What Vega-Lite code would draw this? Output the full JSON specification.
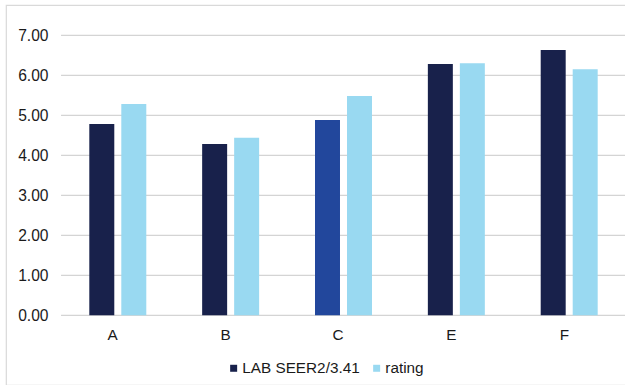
{
  "$schema": "https://vega.github.io/schema/vega-lite/v6.json",
  "autosize": {"type": "none"},
  "padding": {"left": 6, "top": 5, "right": 0, "bottom": 0},
  "width": 630,
  "height": 380,
  "background": "#ffffff",
  "config": {
    "font": "Liberation Sans",
    "view": {"stroke": "#d9d9d9", "strokeWidth": 1.2}
  },
  "datasets": {
    "scores": [
      {"cat": "A", "series": "LAB SEER2/3.41", "value": 4.78},
      {"cat": "A", "series": "rating", "value": 5.28},
      {"cat": "B", "series": "LAB SEER2/3.41", "value": 4.28},
      {"cat": "B", "series": "rating", "value": 4.44},
      {"cat": "C", "series": "LAB SEER2/3.41", "value": 4.88},
      {"cat": "C", "series": "rating", "value": 5.48},
      {"cat": "E", "series": "LAB SEER2/3.41", "value": 6.28},
      {"cat": "E", "series": "rating", "value": 6.30},
      {"cat": "F", "series": "LAB SEER2/3.41", "value": 6.63},
      {"cat": "F", "series": "rating", "value": 6.15}
    ],
    "ticks": [
      {"v": 0}, {"v": 1}, {"v": 2}, {"v": 3}, {"v": 4}, {"v": 5}, {"v": 6}, {"v": 7}
    ]
  },
  "resolve": {"scale": {"x": "shared", "y": "shared"}},
  "layer": [
    {
      "data": {"name": "ticks"},
      "mark": {"type": "rule", "color": "#d4d4d4", "strokeWidth": 1.2},
      "encoding": {
        "y": {"field": "v", "type": "quantitative"},
        "x": {"datum": "A", "type": "nominal", "bandPosition": -0.496},
        "x2": {"datum": "F", "bandPosition": 2}
      }
    },
    {
      "data": {"name": "scores"},
      "mark": {"type": "bar"},
      "encoding": {
        "x": {
          "field": "cat",
          "type": "nominal",
          "sort": ["A", "B", "C", "E", "F"],
          "scale": {"paddingInner": 0.495, "paddingOuter": 0.5388, "align": 0.685},
          "axis": {
            "title": null,
            "orient": "bottom",
            "offset": -69.7,
            "domain": false,
            "ticks": false,
            "tickSize": 0,
            "labelPadding": 19,
            "labelAngle": 0,
            "labelFontSize": 15.3,
            "labelColor": "#1a1a1a"
          }
        },
        "xOffset": {
          "field": "series",
          "type": "nominal",
          "sort": ["LAB SEER2/3.41", "rating"],
          "scale": {"paddingInner": 0.219, "paddingOuter": 0}
        },
        "y": {
          "field": "value",
          "type": "quantitative",
          "scale": {"domain": [-1.7425, 7.7575], "nice": false, "zero": false},
          "axis": {
            "title": null,
            "values": [0, 1, 2, 3, 4, 5, 6, 7],
            "format": ".2f",
            "offset": -55,
            "grid": false,
            "domain": false,
            "ticks": false,
            "tickSize": 0,
            "labelPadding": 13,
            "labelFontSize": 15.6,
            "labelColor": "#1a1a1a"
          }
        },
        "y2": {"datum": 0},
        "color": {
          "condition": {
            "test": "datum.cat === 'C' && datum.series === 'LAB SEER2/3.41'",
            "value": "#22479c"
          },
          "field": "series",
          "type": "nominal",
          "sort": ["LAB SEER2/3.41", "rating"],
          "scale": {"domain": ["LAB SEER2/3.41", "rating"], "range": ["#18214b", "#99d9f1"]},
          "legend": {
            "title": null,
            "orient": "none",
            "direction": "horizontal",
            "legendX": 220,
            "legendY": 355.6,
            "padding": 0,
            "symbolType": "square",
            "symbolSize": 49,
            "symbolStrokeWidth": 0,
            "labelFontSize": 15.3,
            "labelColor": "#1a1a1a",
            "labelOffset": 1,
            "columnPadding": 9
          }
        }
      }
    }
  ]
}
